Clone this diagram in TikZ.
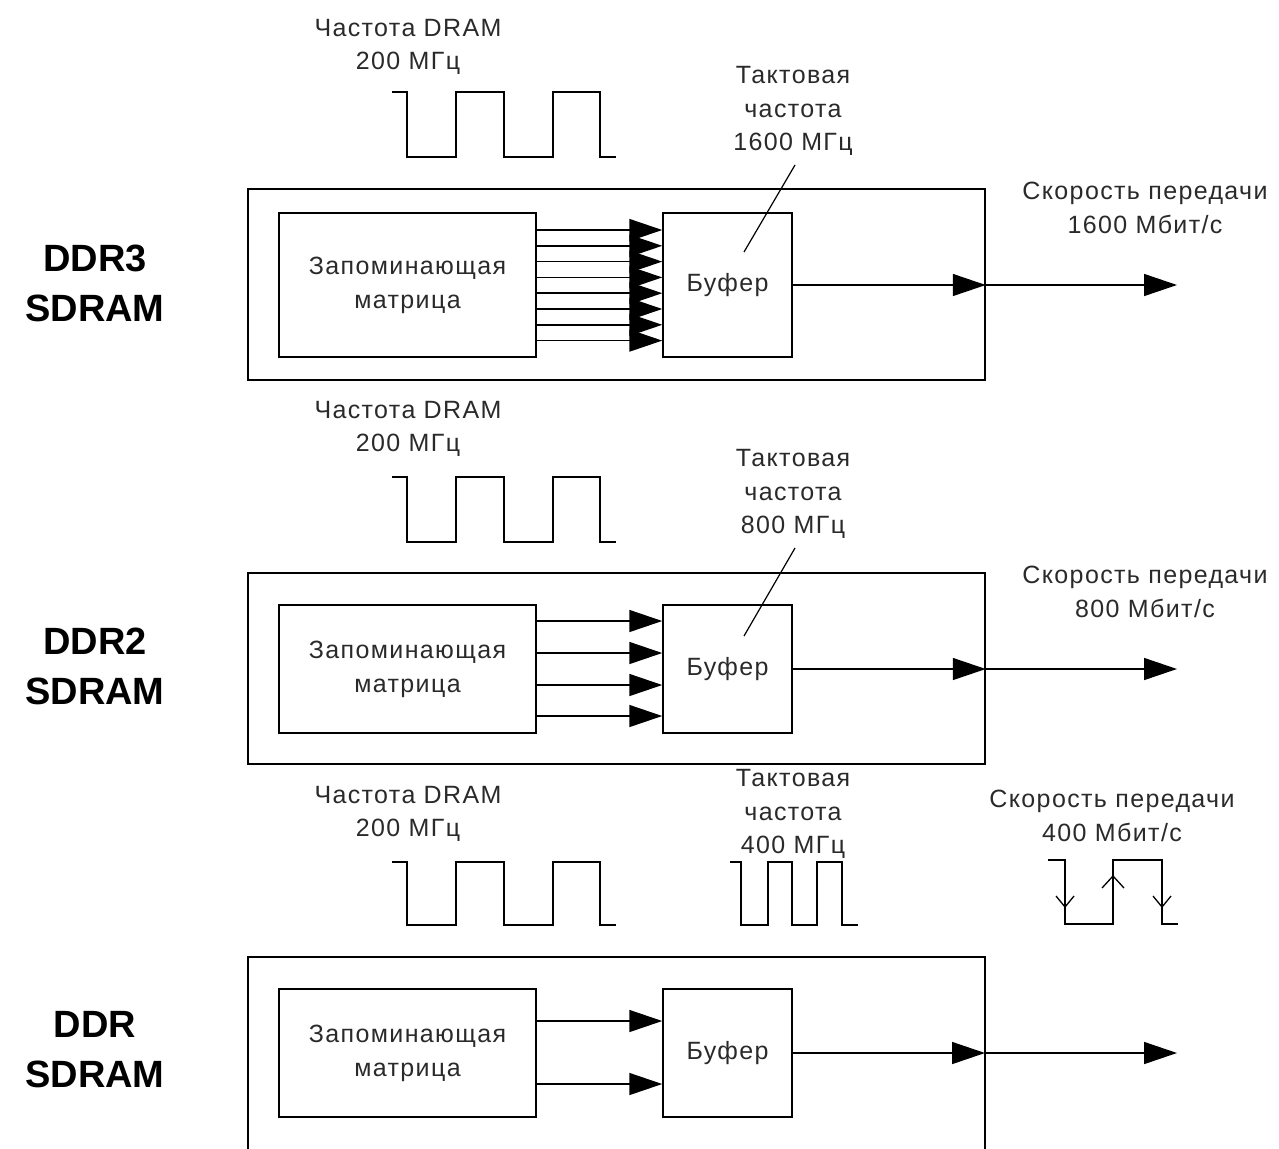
\documentclass[tikz,border=0pt]{standalone}
\usepackage{fontspec}
\setmainfont{Liberation Sans}[LetterSpace=5.5]
\newfontfamily\lblfont{Liberation Sans}
\usetikzlibrary{arrows.meta}
\definecolor{ink}{HTML}{2A2A2A}
\begin{document}
\begin{tikzpicture}[x=1pt,y=-1pt, line width=1.5pt,
  box/.style={draw, line width=1.5pt, inner sep=0pt, align=center, text=ink, font=\fontsize{25}{34}\selectfont},
  txt/.style={align=center, inner sep=0pt, text=ink, font=\fontsize{25}{33.5}\selectfont},
  lbl/.style={align=center, inner sep=0pt, text=black, font=\lblfont\bfseries\fontsize{38}{50}\selectfont},
  arr/.style={-{Triangle[length=33pt,width=22pt]}},
  ]
\useasboundingbox (0,0) rectangle (1279,1148);

% ================= DDR3 =================
\node[lbl] (l3) at (95,283) {DDR3\\SDRAM};
\node[txt] (f3) at (408,47) {Частота DRAM\\200 МГц};
\node[txt] (t3) at (793,111) {Тактовая\\частота\\1600 МГц};
\node[txt] (r3) at (1145,208) {Скорость передачи\\1600 Мбит/с};
\draw (392,92) -| (407,157) -| (456,92) -| (504,157) -| (553,92) -| (600,157) -- (616,157);
\node[box, minimum width=737pt, minimum height=191pt] (o3) at (616.5,284.5) {};
\node[box, minimum width=257pt, minimum height=144pt] (m3) at (407.5,285) {Запоминающая\\матрица};
\node[box, minimum width=129pt, minimum height=144pt] (b3) at (727.5,285) {Буфер};
\foreach \i in {0,...,7}
  \draw[arr] (m3.east |- {(0,230+15.8*\i)}) -- (b3.west |- {(0,230+15.8*\i)});
\coordinate (e3) at (o3.east |- b3.east);
\coordinate (x3) at (1177,285);
\draw[arr] (b3.east) -- (e3);
\draw[arr] (e3) -- (x3);
\coordinate (s3a) at (795,165);
\coordinate (s3b) at (744,252);
\draw[line width=1.2pt] (s3a) -- (s3b);

% ================= DDR2 =================
\node[lbl] (l2) at (95,666) {DDR2\\SDRAM};
\node[txt] (f2) at (408,429) {Частота DRAM\\200 МГц};
\node[txt] (t2) at (793,494) {Тактовая\\частота\\800 МГц};
\node[txt] (r2) at (1145,592) {Скорость передачи\\800 Мбит/с};
\draw (392,477) -| (407,542) -| (456,477) -| (504,542) -| (553,477) -| (600,542) -- (616,542);
\node[box, minimum width=737pt, minimum height=191pt] (o2) at (616.5,668.5) {};
\node[box, minimum width=257pt, minimum height=128pt] (m2) at (407.5,669) {Запоминающая\\матрица};
\node[box, minimum width=129pt, minimum height=128pt] (b2) at (727.5,669) {Буфер};
\foreach \yy in {621,653,685,716}
  \draw[arr] (m2.east |- {(0,\yy)}) -- (b2.west |- {(0,\yy)});
\coordinate (e2) at (o2.east |- b2.east);
\coordinate (x2) at (1177,669);
\draw[arr] (b2.east) -- (e2);
\draw[arr] (e2) -- (x2);
\coordinate (s2a) at (795,548);
\coordinate (s2b) at (744,636);
\draw[line width=1.2pt] (s2a) -- (s2b);

% ================= DDR =================
\node[lbl] (l1) at (95,1050) {DDR\\SDRAM};
\node[txt] (f1) at (408,814) {Частота DRAM\\200 МГц};
\node[txt] (t1) at (793,814) {Тактовая\\частота\\400 МГц};
\node[txt] (r1) at (1112,816) {Скорость передачи\\400 Мбит/с};
\draw (392,862) -| (407,925) -| (456,862) -| (504,925) -| (553,862) -| (600,925) -- (616,925);
\draw (730,862) -| (741,925) -| (768,862) -| (792,925) -| (817,862) -| (842,925) -- (858,925);
\draw (1048,860) -| (1065,924) -| (1113,860) -| (1162,924) -- (1178,924);
\draw[line width=1.3pt] (1056,896) -- (1065,907) -- (1074,896);
\draw[line width=1.3pt] (1102,888) -- (1113,876) -- (1124,888);
\draw[line width=1.3pt] (1153,896) -- (1162,907) -- (1171,896);
\coordinate (o1nw) at (248,957);
\coordinate (o1ne) at (985,957);
\draw (248,1150) -- (o1nw) -- (o1ne) -- (985,1150);
\node[box, minimum width=257pt, minimum height=128pt] (m1) at (407.5,1053) {Запоминающая\\матрица};
\node[box, minimum width=129pt, minimum height=128pt] (b1) at (727.5,1053) {Буфер};
\foreach \yy in {1021,1084}
  \draw[arr] (m1.east |- {(0,\yy)}) -- (b1.west |- {(0,\yy)});
\coordinate (e1) at (985,1053);
\coordinate (x1) at (1177,1053);
\draw[arr] (b1.east) -- (e1);
\draw[arr] (e1) -- (x1);
\end{tikzpicture}
\end{document}
